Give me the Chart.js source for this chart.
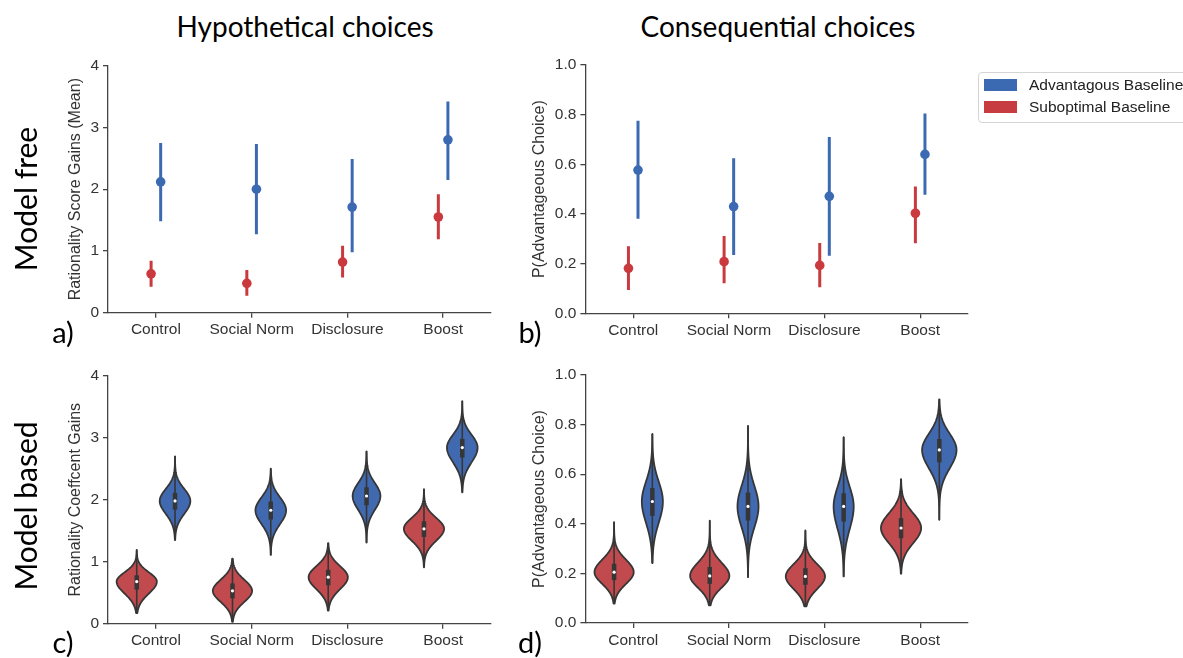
<!DOCTYPE html>
<html>
<head>
<meta charset="utf-8">
<script src="https://cdn.jsdelivr.net/npm/chart.js@4.4.1/dist/chart.umd.min.js"></script>
<style>
  html, body { margin: 0; padding: 0; background: #fff; }
  #fig { position: relative; width: 1183px; height: 658px; overflow: hidden; background: #fff; }
  #fig canvas { position: absolute; }
  .lbl { position: absolute; white-space: nowrap; color: #000; font-family: Lato, "Open Sans", sans-serif; transform: translate(-50%, -50%); line-height: 1; }
  .rot { transform: translate(-50%, -50%) rotate(-90deg); }
  #legend { position: absolute; left: 978px; top: 72px; width: 230px; height: 49px; border: 1px solid #d4d4d4; border-radius: 4px; font-family: "Liberation Sans", Arial, sans-serif; font-size: 15.5px; color: #222; }
  #legend .row { position: absolute; left: 5px; height: 13px; }
  #legend .sw { position: absolute; left: 0; top: 0; width: 33px; height: 12px; }
  #legend .tx { position: absolute; left: 45px; top: -3px; white-space: nowrap; }
</style>
</head>
<body>
<div id="fig">
  <canvas id="pa" width="470" height="300" style="left:40px;top:50px"></canvas>
  <canvas id="pb" width="470" height="300" style="left:518px;top:50px"></canvas>
  <canvas id="pc" width="470" height="298" style="left:40px;top:360px"></canvas>
  <canvas id="pd" width="470" height="298" style="left:518px;top:360px"></canvas>
  <div id="legend">
    <div class="row" style="top:6px"><div class="sw" style="background:#3b69b2"></div><div class="tx">Advantagous Baseline</div></div>
    <div class="row" style="top:28px"><div class="sw" style="background:#c63c41"></div><div class="tx">Suboptimal Baseline</div></div>
  </div>
</div>
<script>
// categories shared by all four panels
const categories = ['Control', 'Social Norm', 'Disclosure', 'Boost'];

// a) hypothetical choices, model free: mean and interval
const aAdvMean = [2.12, 2.00, 1.71, 2.80];
const aAdvLow  = [1.48, 1.27, 0.98, 2.15];
const aAdvHigh = [2.75, 2.73, 2.49, 3.42];
const aSubMean = [0.63, 0.475, 0.82, 1.55];
const aSubLow  = [0.42, 0.275, 0.57, 1.19];
const aSubHigh = [0.84, 0.69, 1.085, 1.92];

// b) consequential choices, model free
const bAdvMean = [0.577, 0.430, 0.471, 0.640];
const bAdvLow  = [0.381, 0.235, 0.232, 0.477];
const bAdvHigh = [0.775, 0.624, 0.710, 0.805];
const bSubMean = [0.181, 0.208, 0.193, 0.403];
const bSubLow  = [0.094, 0.121, 0.105, 0.282];
const bSubHigh = [0.270, 0.311, 0.283, 0.511];

// c) hypothetical choices, model based: posterior min / q1 / median / q3 / max
const cAdvMin = [1.35, 1.11, 1.31, 2.12];
const cAdvQ1  = [1.84, 1.68, 1.91, 2.68];
const cAdvMed = [1.98, 1.83, 2.06, 2.84];
const cAdvQ3  = [2.11, 1.97, 2.20, 2.98];
const cAdvMax = [2.70, 2.50, 2.78, 3.59];
const cSubMin = [0.17, 0.03, 0.21, 0.91];
const cSubQ1  = [0.55, 0.41, 0.62, 1.40];
const cSubMed = [0.68, 0.53, 0.75, 1.53];
const cSubQ3  = [0.78, 0.65, 0.87, 1.65];
const cSubMax = [1.19, 1.05, 1.30, 2.17];
// relative peak density (violin width in category units)
const cAdvPeak = [0.32, 0.32, 0.29, 0.32];
const cSubPeak = [0.42, 0.41, 0.41, 0.42];

// d) consequential choices, model based
const dAdvMin = [0.242, 0.185, 0.188, 0.416];
const dAdvQ1  = [0.432, 0.413, 0.409, 0.648];
const dAdvMed = [0.490, 0.470, 0.470, 0.698];
const dAdvQ3  = [0.544, 0.526, 0.523, 0.742];
const dAdvMax = [0.762, 0.795, 0.749, 0.902];
const dSubMin = [0.078, 0.071, 0.067, 0.199];
const dSubQ1  = [0.173, 0.158, 0.154, 0.342];
const dSubMed = [0.205, 0.190, 0.188, 0.383];
const dSubQ3  = [0.239, 0.226, 0.221, 0.423];
const dSubMax = [0.407, 0.413, 0.373, 0.580];
const dAdvPeak = [0.22, 0.22, 0.21, 0.36];
const dSubPeak = [0.41, 0.41, 0.41, 0.42];

const BLUE = '#3b69b2', RED = '#c9393e';
const VBLUE = '#4169b0', VRED = '#c04a4d';
const AXIS = '#444';
const tickFont = { family: 'Liberation Sans, Arial, sans-serif', size: 15.5 };
const titleFont = { family: 'Liberation Sans, Arial, sans-serif', size: 16 };

// small html labels (titles, row labels, panel letters)
function label(text, x, y, size, rotate) {
  var d = document.createElement('div');
  d.className = 'lbl' + (rotate ? ' rot' : '');
  d.style.left = x + 'px';
  d.style.top = y + 'px';
  d.style.fontSize = size + 'px';
  d.textContent = text;
  document.getElementById('fig').appendChild(d);
}

label('Hypothetical choices', 305, 26, 28);
label('Consequential choices', 778, 26, 28);
label('Model free', 25, 199, 30, true);
label('Model based', 25, 506, 30, true);
label('a)', 63, 331, 29);
label('b)', 530, 331, 29);
label('c)', 63, 641, 29);
label('d)', 530, 641, 29);

var DODGE_POINT = 0.05, DODGE_VIOLIN = 0.2;

function pointDatasets(mean, low, high, color, shift) {
  var pts = [], bars = [];
  mean.forEach(function(m, i) {
    pts.push({ x: i + shift, y: m });
    bars.push({ x: i + shift, y: low[i] }, { x: i + shift, y: high[i] }, { x: i + shift, y: null });
  });
  return [
    { data: pts, backgroundColor: color, borderWidth: 0, pointRadius: 4.8, order: 0 },
    { data: bars, showLine: true, spanGaps: false, borderColor: color, borderWidth: 3,
      pointRadius: 0, borderCapStyle: 'butt', order: 1 }
  ];
}

function violinSet(mn, q1, med, q3, mx, peak, color, shift) {
  return mn.map(function(v, i) {
    return { x: i + shift, min: v, q1: q1[i], med: med[i], q3: q3[i], max: mx[i], peak: peak[i], color: color };
  });
}

// draws violins + inner box through the chart's own scales
var violinPlugin = {
  id: 'violins',
  afterDatasetsDraw: function(chart, args, opts) {
    if (!opts.items) return;
    var xs = chart.scales.x, ys = chart.scales.y, ctx = chart.ctx;
    var unit = xs.getPixelForValue(1) - xs.getPixelForValue(0);
    opts.items.forEach(function(v) {
      var cx = xs.getPixelForValue(v.x);
      var half = v.peak * unit / 2;
      var sUp = (v.q3 - v.med) / 0.6745, sDn = (v.med - v.q1) / 0.6745;
      var n = 90, right = [];
      for (var k = 0; k <= n; k++) {
        var val = v.min + (v.max - v.min) * k / n;
        var s = val > v.med ? sUp : sDn;
        var z = (val - v.med) / s;
        right.push([half * Math.exp(-0.5 * z * z), ys.getPixelForValue(val)]);
      }
      ctx.save();
      ctx.beginPath();
      right.forEach(function(p, k) { k ? ctx.lineTo(cx + p[0], p[1]) : ctx.moveTo(cx + p[0], p[1]); });
      for (var k = right.length - 1; k >= 0; k--) ctx.lineTo(cx - right[k][0], right[k][1]);
      ctx.closePath();
      ctx.fillStyle = v.color;
      ctx.fill();
      ctx.lineWidth = 1.8;
      ctx.strokeStyle = '#363636';
      ctx.lineJoin = 'round';
      ctx.stroke();
      // whisker
      ctx.beginPath();
      ctx.moveTo(cx, ys.getPixelForValue(v.min));
      ctx.lineTo(cx, ys.getPixelForValue(v.max));
      ctx.lineWidth = 1.6;
      ctx.stroke();
      // iqr box
      ctx.beginPath();
      ctx.moveTo(cx, ys.getPixelForValue(v.q1));
      ctx.lineTo(cx, ys.getPixelForValue(v.q3));
      ctx.lineWidth = 4.5;
      ctx.stroke();
      // median
      ctx.beginPath();
      ctx.arc(cx, ys.getPixelForValue(v.med), 1.6, 0, Math.PI * 2);
      ctx.fillStyle = '#fff';
      ctx.fill();
      ctx.restore();
    });
  }
};

function makePanel(id, p) {
  var gridOpts = { drawOnChartArea: false, drawTicks: true, tickLength: 5, color: AXIS, lineWidth: 1.3 };
  return new Chart(document.getElementById(id), {
    type: 'scatter',
    data: { datasets: p.datasets || [] },
    options: {
      responsive: false,
      animation: false,
      events: [],
      layout: { padding: { top: p.top, right: p.right, left: 0, bottom: 0 } },
      plugins: { legend: { display: false }, tooltip: { enabled: false }, violins: { items: p.violins } },
      scales: {
        x: {
          type: 'linear', min: -0.5, max: 3.5,
          afterBuildTicks: function(s) { s.ticks = categories.map(function(c, i) { return { value: i }; }); },
          afterFit: function(s) { s.height = p.xh; },
          ticks: { callback: function(v) { return categories[v]; }, font: tickFont, color: '#333',
                   padding: 3, autoSkip: false, maxRotation: 0 },
          grid: gridOpts,
          border: { color: AXIS, width: 1.3 }
        },
        y: {
          min: p.ymin, max: p.ymax,
          afterBuildTicks: function(s) {
            var t = [];
            for (var v = p.ymin; v <= p.ymax + 1e-9; v += p.step) t.push({ value: +v.toFixed(3) });
            s.ticks = t;
          },
          afterFit: function(s) { s.width = p.yw; },
          ticks: { callback: function(v) { return p.fmt(v); }, font: tickFont, color: '#333', padding: 4 },
          title: { display: true, text: p.ytitle, font: titleFont, color: '#333', padding: { top: p.tpad, bottom: 0 } },
          grid: gridOpts,
          border: { color: AXIS, width: 1.3 }
        }
      }
    },
    plugins: [violinPlugin]
  });
}

var intFmt = function(v) { return String(Math.round(v)); };
var decFmt = function(v) { return v.toFixed(1); };

makePanel('pa', {
  top: 15.7, right: 19, yw: 68, xh: 37.3, tpad: 26,
  ymin: 0, ymax: 4, step: 1, fmt: intFmt, ytitle: 'Rationality Score Gains (Mean)',
  datasets: pointDatasets(aAdvMean, aAdvLow, aAdvHigh, BLUE, DODGE_POINT)
    .concat(pointDatasets(aSubMean, aSubLow, aSubHigh, RED, -DODGE_POINT))
});

makePanel('pb', {
  top: 15, right: 20, yw: 67.4, xh: 36.7, tpad: 12,
  ymin: 0, ymax: 1, step: 0.2, fmt: decFmt, ytitle: 'P(Advantageous Choice)',
  datasets: pointDatasets(bAdvMean, bAdvLow, bAdvHigh, BLUE, DODGE_POINT)
    .concat(pointDatasets(bSubMean, bSubLow, bSubHigh, RED, -DODGE_POINT))
});

makePanel('pc', {
  top: 15.7, right: 19, yw: 68, xh: 34.3, tpad: 26,
  ymin: 0, ymax: 4, step: 1, fmt: intFmt, ytitle: 'Rationality Coeffcent Gains',
  violins: violinSet(cSubMin, cSubQ1, cSubMed, cSubQ3, cSubMax, cSubPeak, VRED, -DODGE_VIOLIN)
    .concat(violinSet(cAdvMin, cAdvQ1, cAdvMed, cAdvQ3, cAdvMax, cAdvPeak, VBLUE, DODGE_VIOLIN))
});

makePanel('pd', {
  top: 15, right: 20, yw: 67.4, xh: 35, tpad: 12,
  ymin: 0, ymax: 1, step: 0.2, fmt: decFmt, ytitle: 'P(Advantageous Choice)',
  violins: violinSet(dSubMin, dSubQ1, dSubMed, dSubQ3, dSubMax, dSubPeak, VRED, -DODGE_VIOLIN)
    .concat(violinSet(dAdvMin, dAdvQ1, dAdvMed, dAdvQ3, dAdvMax, dAdvPeak, VBLUE, DODGE_VIOLIN))
});
</script>
</body>
</html>
